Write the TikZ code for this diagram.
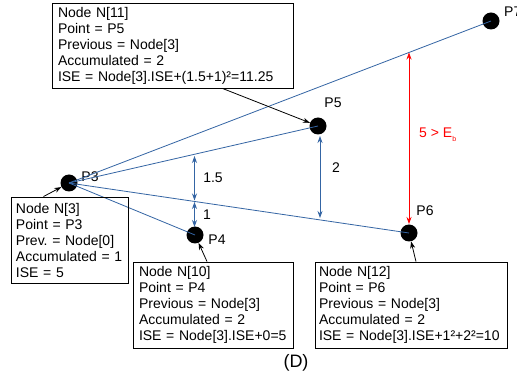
\documentclass[tikz,border=0pt]{standalone}
\usepackage{fontspec}
\setmainfont{Liberation Sans}
\usetikzlibrary{arrows.meta}
\definecolor{lineblue}{HTML}{3465A4}
\definecolor{markred}{HTML}{FF0000}
\tikzset{
  infobox/.style={draw=black, line width=0.9pt, align=left, inner xsep=6pt, inner ysep=0pt,
    font=\fontsize{14}{16}\selectfont\frenchspacing},
  pt/.style={circle, fill=black, minimum size=17pt, inner sep=0pt},
  ptlabel/.style={font=\fontsize{14}{16}\selectfont, inner sep=0pt},
  conn/.style={lineblue, line width=0.8pt},
  meas/.style={lineblue, line width=0.8pt, {Stealth[length=7pt,width=5pt]}-{Stealth[length=7pt,width=5pt]}},
  redmeas/.style={markred, line width=0.8pt, {Stealth[length=7pt,width=5pt]}-{Stealth[length=7pt,width=5pt]}},
  pointer/.style={black, line width=0.8pt, -{Stealth[length=7pt,width=5pt]}},
}
\begin{document}
\begin{tikzpicture}[x=1pt,y=-1pt]
\useasboundingbox (0,0) rectangle (517,379);
\fill[white] (0,0) rectangle (517,379);

% points
\node[pt] (p3) at (69,183) {};
\node[pt] (p4) at (195,235) {};
\node[pt] (p5) at (318,126) {};
\node[pt] (p6) at (409,233) {};
\node[pt] (p7) at (491,21) {};

% point labels
\node[ptlabel] (l3) at (90,177) {P3};
\node[ptlabel] (l4) at (217,240) {P4};
\node[ptlabel] (l5) at (333,103) {P5};
\node[ptlabel] (l6) at (425,211) {P6};
\node[ptlabel, anchor=west] (l7) at (504,12) {P7};

% connectors from P3
\draw[conn] (p3.center) -- (p7.center);
\draw[conn] (p3.center) -- (p5.center);
\draw[conn] (p3.center) -- (p6.center);
\draw[conn] (p3.center) -- (p4.center);

% measurement arrows
\coordinate (a1t) at (194.5,156);
\coordinate (a1b) at (194.5,200.5);
\coordinate (a2t) at (194.5,202);
\coordinate (a2b) at (194.5,227);
\draw[meas] (a1t) -- (a1b);
\draw[meas] (a2t) -- (a2b);
\node[ptlabel] (m15) at (213,178) {1.5};
\node[ptlabel] (m1) at (207,215) {1};

\coordinate (b1t) at (320,136);
\coordinate (b1b) at (320,218);
\draw[meas] (b1t) -- (b1b);
\node[ptlabel] (m2) at (336,168) {2};

\coordinate (r1t) at (409,52.5);
\coordinate (r1b) at (409,224);
\draw[redmeas] (r1t) -- (r1b);
\node[ptlabel, text=markred, anchor=west] (m5) at (419,135) {5 > E\raisebox{-4pt}{\fontsize{7}{7}\selectfont b}};

% info boxes
\node[infobox, minimum width=241pt, minimum height=85pt, text width=229pt] (n11) at (172.5,45.5)
  {Node N[11]\\Point = P5\\Previous = Node[3]\\Accumulated = 2\\ISE = Node[3].ISE+(1.5+1)²=11.25};
\node[infobox, inner xsep=5pt, minimum width=117pt, minimum height=86pt, text width=107pt] (n3) at (69.5,240)
  {Node N[3]\\Point = P3\\Prev. = Node[0]\\Accumulated = 1\\ISE = 5};
\node[infobox, minimum width=160pt, minimum height=86pt, text width=148pt] (n10) at (213,305)
  {Node N[10]\\Point = P4\\Previous = Node[3]\\Accumulated = 2\\ISE = Node[3].ISE+0=5};
\node[infobox, inner xsep=4pt, minimum width=192pt, minimum height=86pt, text width=184pt] (n12) at (411,305)
  {Node N[12]\\Point = P6\\Previous = Node[3]\\Accumulated = 2\\ISE = Node[3].ISE+1²+2²=10};

% pointers
\draw[pointer] (n11.south) ++(50,0) coordinate (s11) (s11) -- (p5);
\draw[pointer] (n3.north) ++(-26,0) coordinate (s3) (s3) -- (p3);
\draw[pointer] (n10.north) ++(-6,0) coordinate (s10) (s10) -- (p4);
\draw[pointer] (n12.north) ++(5,0) coordinate (s12) (s12) -- (p6);

\node[ptlabel, font=\fontsize{18}{20}\selectfont] (cap) at (296,363) {(D)};
\end{tikzpicture}
\end{document}
